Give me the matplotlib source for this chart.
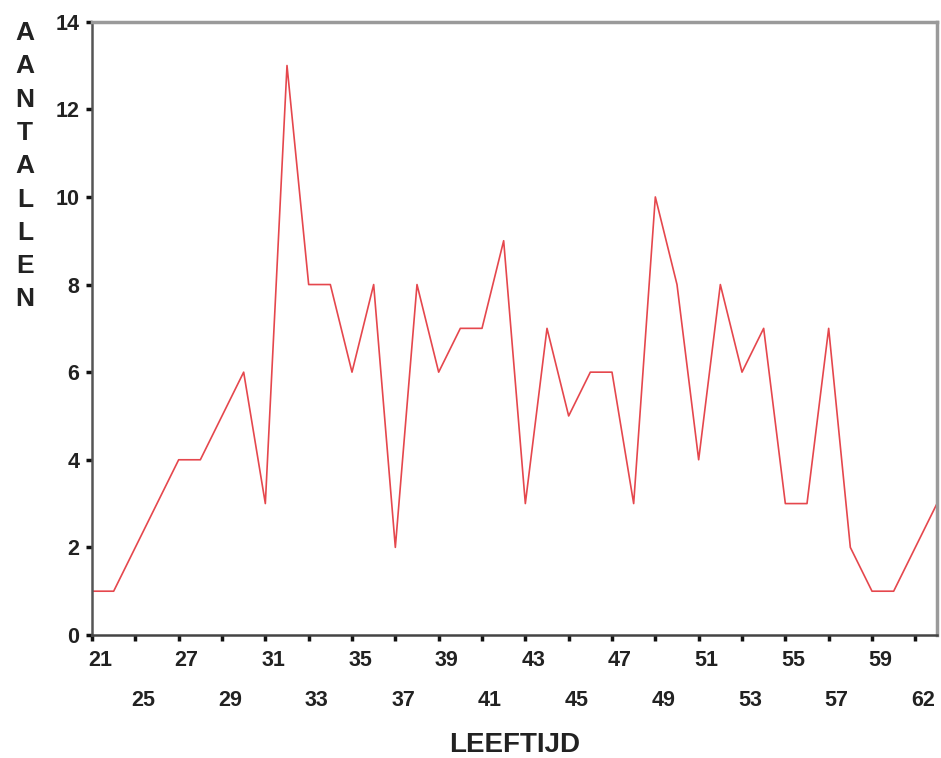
import matplotlib
matplotlib.use("Agg")
import matplotlib.pyplot as plt
import matplotlib.transforms as mtransforms

# Data
ages = [21, 22, 25, 26, 27, 28, 29, 30, 31, 32, 33, 34, 35, 36, 37, 38, 39, 40,
        41, 42, 43, 44, 45, 46, 47, 48, 49, 50, 51, 52, 53, 54, 55, 56, 57, 58,
        59, 60, 62, 63]
counts = [1, 1, 2, 3, 4, 4, 5, 6, 3, 13, 8, 8, 6, 8, 2, 8, 6, 7, 7, 9, 3, 7,
          5, 6, 6, 3, 10, 8, 4, 8, 6, 7, 3, 3, 7, 2, 1, 1, 2, 3]
y_ticks = [0, 2, 4, 6, 8, 10, 12, 14]
x_label = "LEEFTIJD"
y_label = "AANTALLEN"

plt.rcParams['font.family'] = ['Liberation Sans', 'DejaVu Sans']

fig = plt.figure(figsize=(9.41, 7.58), dpi=100)
ax = fig.add_axes([92/941, 1-635/758, (937-92)/941, (635-21.7)/758])

x = list(range(len(ages)))
ax.plot(x, counts, color='#e5474d', lw=1.2)

ax.set_xlim(0, len(ages) - 1)
ax.set_ylim(0, 14)

ax.set_yticks(y_ticks)
ax.set_yticklabels([str(v) for v in y_ticks], fontsize=15.5, fontweight='bold', color='#222222')

tick_idx = list(range(0, len(ages), 2))
ax.set_xticks(tick_idx)
ax.set_xticklabels([])
blend = mtransforms.blended_transform_factory(ax.transData, ax.transAxes)
for k, i in enumerate(tick_idx):
    dy = -26 if k % 2 == 0 else -66
    tr = blend + mtransforms.ScaledTranslation(8/100, dy/100, fig.dpi_scale_trans)
    ax.text(i, 0, str(ages[i]), transform=tr, ha='center', va='center',
            fontsize=15.5, fontweight='bold', color='#222222', clip_on=False)

ax.tick_params(axis='both', direction='out', length=4, width=2.5, color='#111111', pad=6)
ax.tick_params(axis='y', pad=5)

for side in ['top', 'right']:
    ax.spines[side].set_color('#9a9a9a')
    ax.spines[side].set_linewidth(2.5)
ax.spines['left'].set_color('#555555')
ax.spines['left'].set_linewidth(1.8)
ax.spines['bottom'].set_color('#444444')
ax.spines['bottom'].set_linewidth(1.8)

fig.text(515/941, 1-745/758, x_label, ha='center', va='center', fontsize=20, fontweight='bold', color='#222222')
fig.text(25/941, 1-21/758, "\n".join(y_label), ha='center', va='top', fontsize=19,
         fontweight='bold', color='#222222', linespacing=1.49)

fig.savefig("out.png", dpi=100)
